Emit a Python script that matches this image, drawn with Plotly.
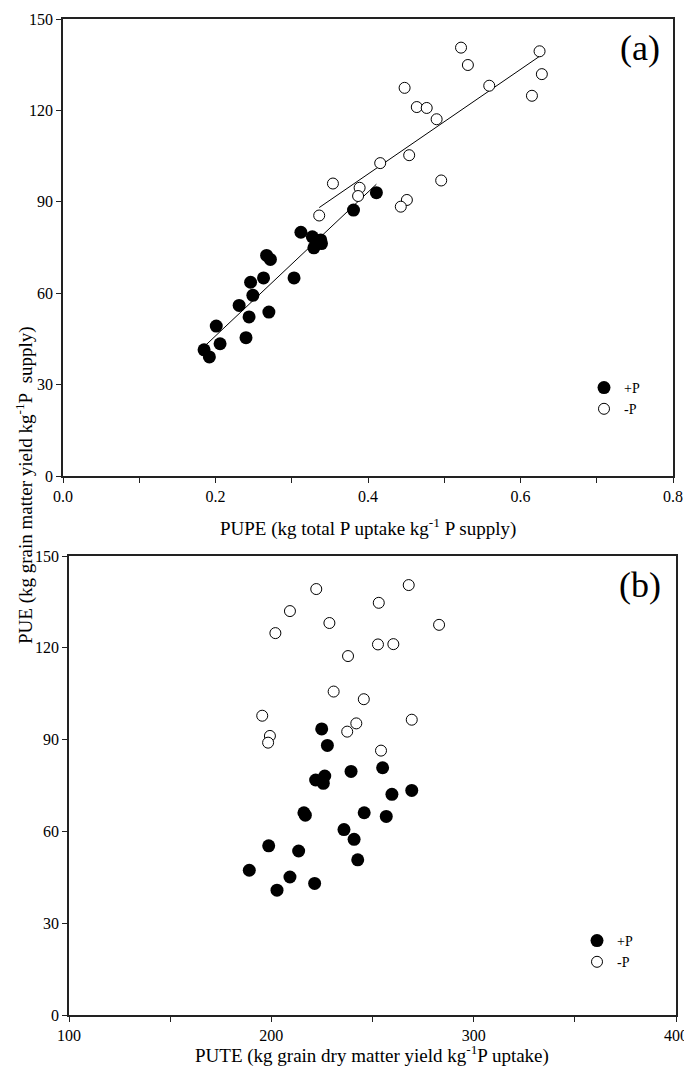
import numpy as np
import plotly.graph_objects as go

# panel (a): PUPE vs PUE
pupe_plus = [0.185, 0.192, 0.201, 0.206, 0.231, 0.240, 0.244, 0.246, 0.249, 0.263, 0.267,
             0.272, 0.270, 0.303, 0.312, 0.327, 0.339, 0.338, 0.329, 0.381, 0.411]
pue_plus_a = [41.4, 39.1, 49.2, 43.4, 56.0, 45.4, 52.2, 63.6, 59.3, 65.0, 72.4,
              71.1, 53.8, 65.0, 80.0, 78.5, 76.3, 77.5, 74.9, 87.3, 93.0]
pupe_minus = [0.522, 0.625, 0.531, 0.628, 0.448, 0.559, 0.615, 0.464, 0.477, 0.490,
              0.454, 0.416, 0.496, 0.354, 0.389, 0.387, 0.451, 0.443, 0.336]
pue_minus_a = [140.6, 139.4, 134.9, 131.9, 127.4, 128.1, 124.8, 121.1, 120.8, 117.1,
               105.3, 102.7, 97.0, 96.0, 94.6, 91.9, 90.6, 88.4, 85.5]

# panel (b): PUTE vs PUE
pute_plus = [224.9, 227.7, 239.4, 255.0, 221.9, 226.4, 225.7, 259.6, 269.4, 216.1, 216.8,
             245.9, 256.8, 235.9, 240.9, 198.7, 213.5, 242.7, 189.1, 209.2, 221.4, 202.8]
pue_plus_b = [93.5, 88.1, 79.6, 80.8, 76.8, 78.1, 75.7, 72.1, 73.4, 66.1, 65.3,
              66.1, 64.9, 60.6, 57.4, 55.3, 53.6, 50.7, 47.3, 45.1, 43.0, 40.8]
pute_minus = [222.2, 267.9, 209.2, 253.1, 228.7, 202.0, 282.9, 252.7, 260.3, 237.9,
              230.8, 245.7, 195.5, 242.0, 269.4, 199.3, 237.5, 198.4, 254.2]
pue_minus_b = [139.2, 140.5, 132.0, 134.7, 128.1, 124.8, 127.5, 121.1, 121.2, 117.3,
               105.7, 103.2, 97.8, 95.3, 96.5, 91.2, 92.6, 89.0, 86.4]

FONT = "Liberation Serif, Times New Roman, serif"
W, H = 684, 1066

filled = dict(symbol="circle", size=13, color="black", line=dict(color="black", width=0))
hollow = dict(symbol="circle", size=11, color="white", line=dict(color="black", width=1))

fig = go.Figure()

# regression lines in panel (a)
for xs, ys in [(pupe_plus, pue_plus_a), (pupe_minus, pue_minus_a)]:
    k, b = np.polyfit(xs, ys, 1)
    xl = np.array([min(xs), max(xs)])
    fig.add_trace(go.Scatter(x=xl, y=k * xl + b, mode="lines", line=dict(color="black", width=1),
                             showlegend=False, hoverinfo="skip", xaxis="x", yaxis="y"))

fig.add_trace(go.Scatter(x=pupe_plus, y=pue_plus_a, mode="markers", marker=filled, name="+P",
                         xaxis="x", yaxis="y", legend="legend"))
fig.add_trace(go.Scatter(x=pupe_minus, y=pue_minus_a, mode="markers", marker=hollow, name="-P",
                         xaxis="x", yaxis="y", legend="legend"))
fig.add_trace(go.Scatter(x=pute_plus, y=pue_plus_b, mode="markers", marker=filled, name="+P",
                         xaxis="x2", yaxis="y2", legend="legend2"))
fig.add_trace(go.Scatter(x=pute_minus, y=pue_minus_b, mode="markers", marker=hollow, name="-P",
                         xaxis="x2", yaxis="y2", legend="legend2"))

axis_style = dict(showline=True, linecolor="#222", linewidth=1.5, mirror=True, ticks="outside",
                  ticklen=5, tickwidth=1.2, tickcolor="#222", showgrid=False, zeroline=False,
                  automargin=False, ticklabeloverflow="allow",
                  tickfont=dict(family=FONT, size=16, color="black"))


def label(text, px, py, size, angle=0):
    return dict(text=text, x=px / W, y=1 - py / H, xref="paper", yref="paper", showarrow=False,
                xanchor="center", yanchor="middle", textangle=angle, font=dict(family=FONT, size=size))


fig.update_layout(
    width=W, height=H,
    margin=dict(l=0, r=0, t=0, b=0, autoexpand=False),
    paper_bgcolor="white", plot_bgcolor="white",
    font=dict(family=FONT, color="black"),
    xaxis=dict(axis_style, domain=[63 / W, 673 / W], range=[0, 0.8], tickvals=[0, 0.2, 0.4, 0.6, 0.8],
               ticktext=["0.0", "0.2", "0.4", "0.6", "0.8"],
               minor=dict(dtick=0.1, ticks="outside", ticklen=5, tickcolor="#222"), anchor="y"),
    yaxis=dict(axis_style, domain=[1 - 476 / H, 1 - 19 / H], range=[0, 150], dtick=30, anchor="x"),
    xaxis2=dict(axis_style, domain=[69 / W, 676 / W], range=[100, 400], dtick=100,
                minor=dict(dtick=50, ticks="outside", ticklen=5, tickcolor="#222"), anchor="y2"),
    yaxis2=dict(axis_style, domain=[1 - 1015 / H, 1 - 556 / H], range=[0, 150], dtick=30, anchor="x2"),
    legend=dict(x=584 / W, y=1 - 372 / H, xanchor="left", yanchor="top", bgcolor="rgba(0,0,0,0)",
                font=dict(family=FONT, size=14), tracegroupgap=0),
    legend2=dict(x=577 / W, y=1 - 925 / H, xanchor="left", yanchor="top", bgcolor="rgba(0,0,0,0)",
                 font=dict(family=FONT, size=14), tracegroupgap=0),
    annotations=[
        label("(a)", 640, 48, 36),
        label("(b)", 640, 585, 36),
        label("PUPE (kg total P uptake kg<sup>-1</sup> P supply)", 368, 527, 19),
        label("PUTE (kg grain dry matter yield kg<sup>-1</sup>P uptake)", 372, 1054, 19),
        label("PUE (kg grain matter yield kg<sup>-1</sup>P&nbsp; supply)", 24, 485, 19, -90),
    ],
)

# the page body has a default 8px margin; drop it so the figure fills the window
fig.write_html("out.html", config={"displayModeBar": False},
               post_script="document.body.style.margin = '0';")
